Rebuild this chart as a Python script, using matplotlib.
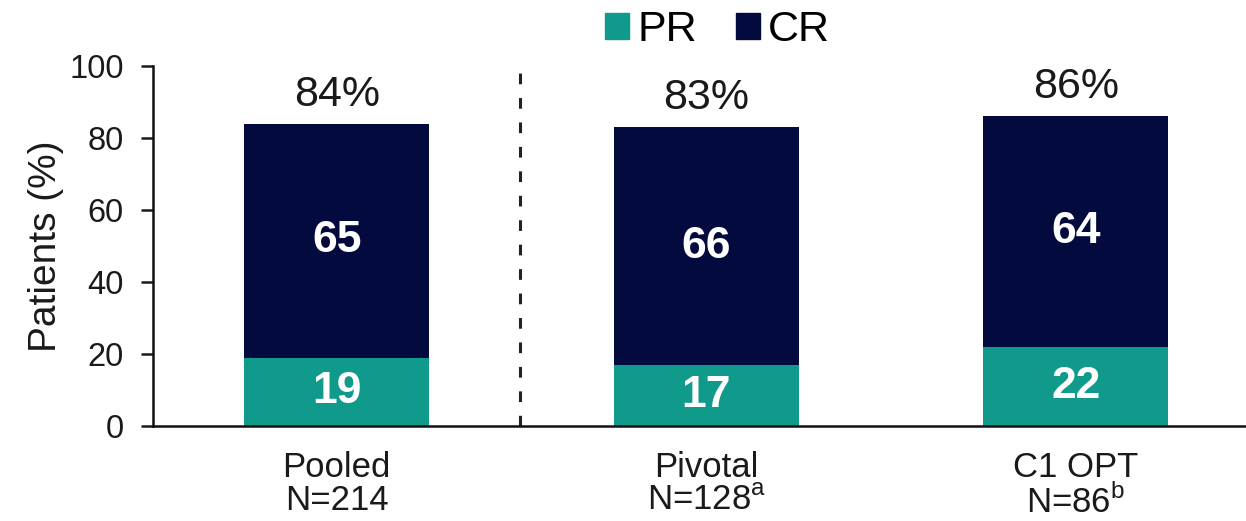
import numpy as np
import matplotlib
matplotlib.use("Agg")
import matplotlib.pyplot as plt
from matplotlib.patches import Patch

plt.rcParams['font.family'] = ['Liberation Sans', 'DejaVu Sans']
plt.rcParams['mathtext.fontset'] = 'custom'
plt.rcParams['mathtext.rm'] = 'Liberation Sans'

groups = ["Pooled", "Pivotal", "C1 OPT"]
n_labels = ["N=214", "N=128$^{\\mathrm{a}}$", "N=86$^{\\mathrm{b}}$"]
pr = [19, 17, 22]
cr = [65, 66, 64]
totals = [84, 83, 86]

pr_color = "#0f9a8c"
cr_color = "#030b3e"

fig = plt.figure(figsize=(12.46, 5.21), dpi=100)
ax = fig.add_axes([0.1228, 0.1823, 0.877, 0.691])

x = np.arange(len(groups))
w = 0.5
ax.bar(x, pr, width=w, color=pr_color, zorder=2)
ax.bar(x, cr, width=w, bottom=pr, color=cr_color, zorder=2)

for i in range(len(groups)):
    ax.text(x[i], pr[i] / 2, str(pr[i]), ha='center', va='center',
            color='white', fontsize=32, fontweight='bold')
    ax.text(x[i], pr[i] + cr[i] / 2, str(cr[i]), ha='center', va='center',
            color='white', fontsize=32, fontweight='bold')
    ax.text(x[i], totals[i] + 5, f"{totals[i]}%", ha='center', va='baseline',
            fontsize=31, color='#1a1a1a')

# separator between pooled and the two cohorts
ax.plot([0.495, 0.495], [0, 99], color='#222222', lw=2.2,
        linestyle=(0, (3.5, 4.5)), zorder=1)

ax.set_xlim(-0.497, 2.46)
ax.set_ylim(0, 100)
ax.set_yticks([0, 20, 40, 60, 80, 100])
ax.set_xticks(x)
ax.set_xticklabels([f"{g}\n{n}" for g, n in zip(groups, n_labels)], fontsize=25,
                   color='#1a1a1a', linespacing=1.0)
ax.tick_params(axis='y', labelsize=23.5, length=9, width=1.8, pad=12, colors='#1a1a1a')
ax.tick_params(axis='x', length=0, pad=18)
ax.set_ylabel("Patients (%)", fontsize=28, color='#1a1a1a', labelpad=4)

for s in ['top', 'right']:
    ax.spines[s].set_visible(False)
for s in ['left', 'bottom']:
    ax.spines[s].set_linewidth(1.8)
    ax.spines[s].set_color('#111111')

handles = [Patch(color=pr_color, label='PR'), Patch(color=cr_color, label='CR')]
fig.legend(handles=handles, loc='center', bbox_to_anchor=(0.576, 0.942), ncol=2,
           frameon=False, fontsize=31, handlelength=0.55, handleheight=0.55,
           handletextpad=0.2, columnspacing=0.9)

fig.savefig("out.png", dpi=100)
